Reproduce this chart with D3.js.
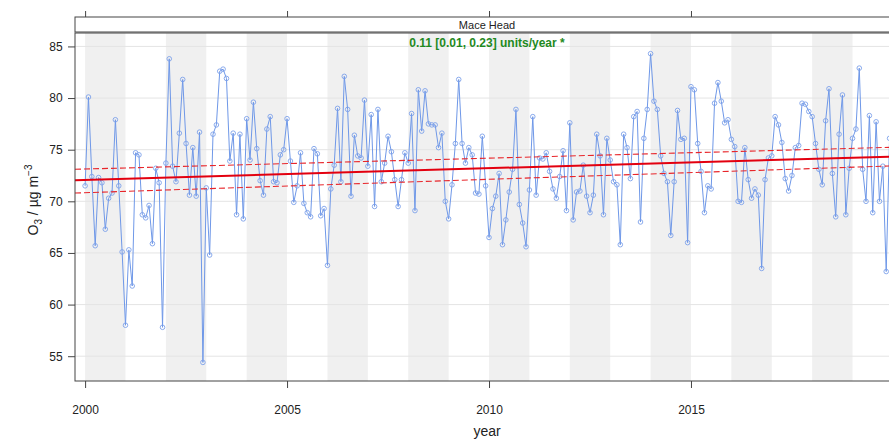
<!DOCTYPE html>
<html>
<head>
<meta charset="utf-8">
<script src="https://cdn.jsdelivr.net/npm/d3@7"></script>
<style>
  body { margin: 0; background: #fff; }
  text { font-family: "Liberation Sans", Arial, sans-serif; }
</style>
</head>
<body>
<svg id="plot_canvas"></svg>
<script>
// monthly mean O3 at Mace Head, Jan 2000 .. Dec 2019
const o3_2000_2004 = [71.5, 80.1, 72.4, 65.7, 72.3, 71.8, 67.3, 70.3, 70.8, 77.9, 71.5, 65.1,
                      58.0, 65.3, 61.8, 74.7, 74.5, 68.7, 68.4, 69.6, 65.9, 73.2, 71.8, 57.8,
                      73.7, 83.8, 73.4, 71.9, 76.6, 81.8, 75.6, 70.6, 75.2, 70.5, 76.7, 54.4,
                      71.3, 64.8, 76.5, 77.4, 82.6, 82.8, 81.9, 73.9, 76.6, 68.7, 76.5, 68.3,
                      78.0, 74.0, 79.6, 75.1, 72.0, 70.6, 77.0, 78.2, 71.9, 71.8, 74.5, 75.0];
const o3_2005_2009 = [78.0, 73.9, 69.9, 71.5, 74.7, 69.8, 68.9, 68.5, 75.1, 74.6, 68.6, 69.3,
                      63.8, 71.2, 73.5, 79.0, 71.9, 82.1, 78.9, 70.5, 76.4, 74.4, 74.2, 79.8,
                      73.4, 78.4, 69.5, 78.9, 71.9, 73.7, 76.3, 74.8, 72.1, 69.5, 72.1, 74.7,
                      73.7, 78.5, 69.1, 80.8, 76.8, 80.7, 77.5, 77.4, 77.4, 75.2, 76.6, 70.0,
                      68.3, 71.6, 75.6, 81.8, 75.6, 73.7, 75.2, 74.5, 70.8, 70.7, 76.3, 71.5];
const o3_2010_2014 = [66.5, 69.3, 70.5, 72.7, 65.8, 68.2, 70.9, 73.1, 78.9, 69.7, 67.9, 65.6,
                      71.1, 78.2, 70.6, 74.2, 74.1, 74.7, 72.9, 71.2, 70.3, 72.4, 74.9, 69.1,
                      77.6, 68.2, 70.9, 71.0, 73.5, 70.5, 68.9, 70.6, 76.5, 74.4, 68.7, 76.1,
                      74.0, 71.9, 71.6, 65.8, 76.5, 75.2, 72.2, 78.2, 78.7, 68.0, 76.1, 78.9,
                      84.3, 79.7, 78.9, 74.4, 72.7, 71.9, 66.7, 71.9, 78.8, 76.0, 76.1, 66.0];
const o3_2015_2019 = [81.1, 80.8, 75.6, 72.9, 68.9, 71.5, 71.2, 79.5, 81.5, 79.7, 77.6, 77.9,
                      76.0, 75.3, 70.0, 69.9, 75.2, 72.1, 70.3, 71.2, 70.6, 63.5, 72.1, 74.2,
                      74.4, 78.2, 77.4, 75.7, 72.2, 71.0, 72.5, 75.2, 75.4, 79.5, 79.4, 78.7,
                      78.2, 75.6, 73.1, 71.6, 77.8, 80.9, 72.7, 68.5, 76.5, 80.3, 68.7, 73.2,
                      76.1, 77.0, 82.9, 73.1, 70.0, 78.3, 68.9, 77.7, 70.0, 73.4, 63.2, 76.1];
const o3_values = o3_2000_2004.concat(o3_2005_2009, o3_2010_2014, o3_2015_2019);
const start_year = 2000;

// Theil-Sen trend and its confidence limits, read at the panel edges
const trend_years = [1999.75, 2020.15];
const trend_mid = [72.05, 74.35];
const trend_upper = [73.1, 75.25];
const trend_lower = [70.8, 73.45];

const x_ticks = [2000, 2005, 2010, 2015];
const y_ticks = [55, 60, 65, 70, 75, 80, 85];
const shaded_years = [2000, 2002, 2004, 2006, 2008, 2010, 2012, 2014, 2016, 2018];
const site_name = 'Mace Head';
const slope_text = '0.11 [0.01, 0.23] units/year *';

const w = 889;
const h = 439;
const pLeft = 75, pRight = 899, pTop = 33, pBottom = 381, stripTop = 17;

const data = o3_values.map((v, i) => ({ year: start_year + i / 12, value: v }));

const svg = d3.select('#plot_canvas')
  .attr('width', w)
  .attr('height', h);

const xScale = d3.scaleLinear()
  .domain([1999.75, 2020.15])
  .range([pLeft, pRight]);

const yScale = d3.scaleLinear()
  .domain([52.6, 86.3])
  .range([pBottom, pTop]);

svg.append('defs').append('clipPath')
  .attr('id', 'panel_clip')
  .append('rect')
  .attr('x', pLeft).attr('y', pTop)
  .attr('width', pRight - pLeft).attr('height', pBottom - pTop);

const panel = svg.append('g').attr('clip-path', 'url(#panel_clip)');

panel.selectAll('rect.band')
  .data(shaded_years)
  .enter()
  .append('rect')
  .attr('class', 'band')
  .attr('x', (d) => xScale(d))
  .attr('y', pTop)
  .attr('width', (d) => xScale(d + 1) - xScale(d))
  .attr('height', pBottom - pTop)
  .attr('fill', '#f0f0f0');

panel.selectAll('line.grid')
  .data(y_ticks)
  .enter()
  .append('line')
  .attr('class', 'grid')
  .attr('x1', pLeft).attr('x2', pRight)
  .attr('y1', (d) => yScale(d)).attr('y2', (d) => yScale(d))
  .attr('stroke', '#e4e4e4')
  .attr('stroke-width', 1);

const line = d3.line()
  .x((d) => xScale(d.year))
  .y((d) => yScale(d.value));

panel.append('path')
  .datum(data)
  .attr('d', line)
  .attr('fill', 'none')
  .attr('stroke', '#6f98e8')
  .attr('stroke-width', 1);

panel.selectAll('circle')
  .data(data)
  .enter()
  .append('circle')
  .attr('cx', (d) => xScale(d.year))
  .attr('cy', (d) => yScale(d.value))
  .attr('r', 2.3)
  .attr('fill', 'none')
  .attr('stroke', '#7ea2ea')
  .attr('stroke-width', 0.9);

const trendLine = (vals) => d3.line()
  .x((d, i) => xScale(trend_years[i]))
  .y((d) => yScale(d))(vals);

panel.append('path')
  .attr('d', trendLine(trend_upper))
  .attr('fill', 'none')
  .attr('stroke', '#e8262b')
  .attr('stroke-width', 1.1)
  .attr('stroke-dasharray', '6,3');

panel.append('path')
  .attr('d', trendLine(trend_lower))
  .attr('fill', 'none')
  .attr('stroke', '#e8262b')
  .attr('stroke-width', 1.1)
  .attr('stroke-dasharray', '6,3');

panel.append('path')
  .attr('d', trendLine(trend_mid))
  .attr('fill', 'none')
  .attr('stroke', '#e3000f')
  .attr('stroke-width', 2);

panel.append('text')
  .attr('x', (pLeft + pRight) / 2)
  .attr('y', 47)
  .attr('text-anchor', 'middle')
  .attr('font-size', 12)
  .attr('font-weight', 'bold')
  .attr('fill', '#1f8a1f')
  .text(slope_text);

// panel frame and strip
svg.append('rect')
  .attr('x', pLeft).attr('y', pTop)
  .attr('width', pRight - pLeft).attr('height', pBottom - pTop)
  .attr('fill', 'none')
  .attr('stroke', '#444');

svg.append('rect')
  .attr('x', pLeft).attr('y', stripTop)
  .attr('width', pRight - pLeft).attr('height', pTop - stripTop - 1)
  .attr('fill', '#fff')
  .attr('stroke', '#444');

svg.append('text')
  .attr('x', (pLeft + pRight) / 2)
  .attr('y', 29)
  .attr('text-anchor', 'middle')
  .attr('font-size', 11)
  .attr('fill', '#222')
  .text(site_name);

const xAxis = d3.axisBottom(xScale)
  .tickValues(x_ticks)
  .tickSize(7)
  .tickSizeOuter(0)
  .tickFormat(d3.format('d'));

const gx = svg.append('g')
  .attr('transform', 'translate(0,' + pBottom + ')')
  .call(xAxis);
gx.select('.domain').remove();
gx.selectAll('text').attr('font-size', 12).attr('fill', '#222').attr('dy', '1.95em');
gx.selectAll('line').attr('stroke', '#444');

const gxTop = svg.append('g')
  .attr('transform', 'translate(0,' + stripTop + ')')
  .call(d3.axisTop(xScale).tickValues(x_ticks).tickSize(6).tickFormat(''));
gxTop.select('.domain').remove();
gxTop.selectAll('line').attr('stroke', '#444');

const yAxis = d3.axisLeft(yScale)
  .tickValues(y_ticks)
  .tickSize(7)
  .tickSizeOuter(0);

const gy = svg.append('g')
  .attr('transform', 'translate(' + pLeft + ',0)')
  .call(yAxis);
gy.select('.domain').remove();
gy.selectAll('text').attr('font-size', 12).attr('fill', '#222').attr('dx', '-0.2em');
gy.selectAll('line').attr('stroke', '#444');

svg.append('text')
  .attr('x', (pLeft + pRight) / 2)
  .attr('y', 436)
  .attr('text-anchor', 'middle')
  .attr('font-size', 14)
  .attr('fill', '#222')
  .text('year');

const ylab = svg.append('text')
  .attr('transform', 'translate(38,200) rotate(-90)')
  .attr('text-anchor', 'middle')
  .attr('font-size', 14)
  .attr('fill', '#222');
ylab.append('tspan').text('O');
ylab.append('tspan').attr('font-size', 10).attr('dy', 4).text('3');
ylab.append('tspan').attr('dy', -4).text(' / µg m');
ylab.append('tspan').attr('font-size', 10).attr('dy', -6).text('−3');
</script>
</body>
</html>
